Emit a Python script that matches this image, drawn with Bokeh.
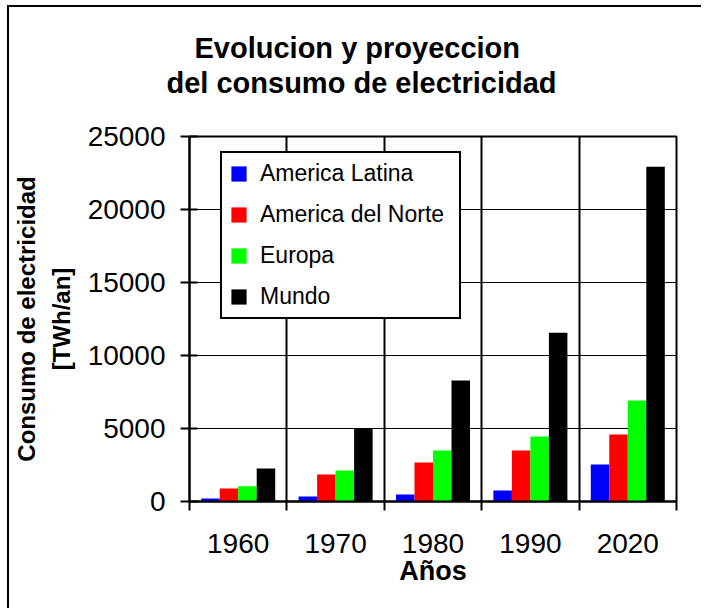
from bokeh.plotting import figure
from bokeh.models import Range1d, FixedTicker, Legend, LegendItem, Title
from bokeh.embed import file_html
from bokeh.resources import INLINE

years = ["1960", "1970", "1980", "1990", "2020"]
series = ["America Latina", "America del Norte", "Europa", "Mundo"]
america_latina = [200, 340, 480, 750, 2530]
america_norte = [890, 1850, 2670, 3490, 4590]
europa = [1050, 2120, 3490, 4450, 6910]
mundo = [2260, 4970, 8280, 11560, 22920]
y_ticks = [0, 5000, 10000, 15000, 20000, 25000]
title_lines = ["Evolucion y proyeccion", "del consumo de electricidad"]

values = [america_latina, america_norte, europa, mundo]
colors = ["#0000FF", "#FF0000", "#00FF00", "#000000"]
FONT = "Liberation Sans"

n = len(years)
p = figure(width=694, height=603, output_backend="svg", toolbar_location=None,
           x_range=Range1d(0, n), y_range=Range1d(0, 25000), title=None,
           min_border_left=173, min_border_right=27, min_border_top=129,
           min_border_bottom=109)
p.styles = {"border-left": "2px solid black", "border-top": "2px solid black",
            "margin-left": "7px", "margin-top": "5px"}

bar_w = 0.19
offsets = [-0.285, -0.095, 0.095, 0.285]
renderers = []
for vals, col, off in zip(values, colors, offsets):
    xs = [i + 0.5 + off for i in range(n)]
    r = p.vbar(x=xs, top=vals, width=bar_w, bottom=0, fill_color=col, line_color=None)
    renderers.append(r)

# two-line title: a blank spacer next to the frame, then the two lines
title_style = dict(text_font=FONT, text_font_size="29px", text_font_style="bold",
                   text_color="black", align="left")
p.add_layout(Title(text=" ", standoff=4, **title_style), "above")
p.add_layout(Title(text=title_lines[1], offset=-23, standoff=0, **title_style), "above")
p.add_layout(Title(text=title_lines[0], offset=5, standoff=2, **title_style), "above")

# x axis
xt = FixedTicker(ticks=[i + 0.5 for i in range(n)], minor_ticks=list(range(n + 1)))
p.xaxis.ticker = xt
p.xaxis.major_label_overrides = {i + 0.5: y for i, y in enumerate(years)}
p.xaxis.major_tick_out = 0
p.xaxis.major_tick_in = 0
p.xaxis.minor_tick_out = 9
p.xaxis.minor_tick_in = 0
p.xaxis.minor_tick_line_width = 2
p.xaxis.minor_tick_line_color = "black"
p.xaxis.major_label_standoff = 23
p.xaxis.axis_label = "Años"
p.xaxis.axis_label_standoff = 0
p.xaxis.axis_label_text_font_size = "27px"

# y axis
p.yaxis.ticker = FixedTicker(ticks=y_ticks)
p.yaxis.major_tick_out = 9
p.yaxis.major_tick_in = 8
p.yaxis.major_tick_line_width = 2
p.yaxis.minor_tick_line_color = None
p.yaxis.major_label_standoff = 15
p.yaxis.axis_label = "Consumo de electricidad\n[TWh/an]"
p.yaxis.axis_label_standoff = 10
p.yaxis.axis_label_text_font_size = "24px"
p.yaxis.axis_label_text_line_height = 1.3

for ax in (p.xaxis, p.yaxis):
    ax.axis_line_width = 2
    ax.axis_line_color = "black"
    ax.major_tick_line_color = "black"
    ax.major_label_text_font = FONT
    ax.major_label_text_font_size = "28px"
    ax.major_label_text_color = "black"
    ax.axis_label_text_font = FONT
    ax.axis_label_text_font_style = "bold"
    ax.axis_label_text_color = "black"

p.xgrid.ticker = FixedTicker(ticks=list(range(1, n)))
p.xgrid.grid_line_color = "black"
p.xgrid.grid_line_width = 2
p.ygrid.grid_line_color = "black"
p.ygrid.grid_line_width = 1

p.outline_line_color = "black"
p.outline_line_width = 2
p.outline_line_alpha = 1
p.background_fill_color = "white"
p.border_fill_color = "white"

legend = Legend(items=[LegendItem(label=s, renderers=[r]) for s, r in zip(series, renderers)],
                location=(31, 182), padding=7, spacing=14, glyph_width=19, glyph_height=19,
                label_height=27, label_width=192, label_standoff=12,
                label_text_font=FONT, label_text_font_size="23px", label_text_color="black",
                border_line_color="black", border_line_width=2, border_line_alpha=1,
                background_fill_color="white", background_fill_alpha=1)
p.add_layout(legend, "center")

open("out.html", "w").write(file_html(p, INLINE))
